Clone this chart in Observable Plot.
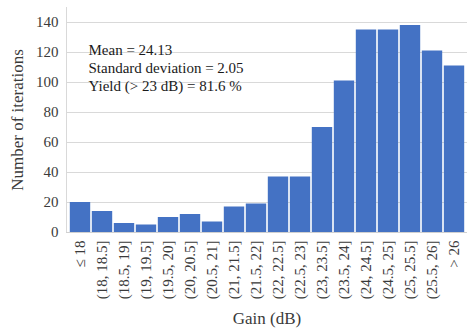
<!DOCTYPE html>
<html>
<head>
<meta charset="utf-8">
<script src="https://cdn.jsdelivr.net/npm/d3@7"></script>
<script src="https://cdn.jsdelivr.net/npm/@observablehq/plot@0.6"></script>
<style>
  html, body { margin: 0; padding: 0; background: #fff; }
  #chart svg { display: block; }
  #chart svg text { font-family: 'Liberation Serif', 'Times New Roman', serif; }
</style>
</head>
<body>
<div id="chart"></div>
<script>
const categories = ["≤ 18", "(18, 18.5]", "(18.5, 19]", "(19, 19.5]", "(19.5, 20]", "(20, 20.5]", "(20.5, 21]", "(21, 21.5]", "(21.5, 22]", "(22, 22.5]", "(22.5, 23]", "(23, 23.5]", "(23.5, 24]", "(24, 24.5]", "(24.5, 25]", "(25, 25.5]", "(25.5, 26]", "> 26"];
const counts = [20, 14, 6, 5, 10, 12, 7, 17, 19, 37, 37, 70, 101, 135, 135, 138, 121, 111];
const yTicks = [0, 20, 40, 60, 80, 100, 120, 140];
const statsLines = ["Mean = 24.13", "Standard deviation = 2.05", "Yield (> 23 dB) = 81.6 %"];
const xTitle = "Gain (dB)";
const yTitle = "Number of iterations";

const data = categories.map((c, i) => ({category: c, count: counts[i]}));
const font = "'Liberation Serif', 'Times New Roman', serif";
const ink = "#3a3a3a";

const chart = Plot.plot({
  width: 467,
  height: 329,
  marginLeft: 66,
  marginRight: 0,
  marginTop: 7,
  marginBottom: 97,
  style: {fontFamily: font, background: "#fff", color: ink},
  x: {type: "band", domain: categories, padding: 0},
  y: {domain: [0, 150]},
  marks: [
    Plot.gridY(yTicks.filter(d => d > 0), {stroke: "#d9d9d9", strokeOpacity: 1, strokeWidth: 1}),
    Plot.frame({anchor: "left", stroke: "#d9d9d9"}),
    Plot.text([statsLines.join("\n")], {
      frameAnchor: "top-left", dx: 22, dy: 60, lineAnchor: "middle", textAnchor: "start",
      lineHeight: 1.2, fontSize: 15, fill: "#1a1a1a", ariaLabel: "stats", fontFamily: font
    }),
    Plot.barY(data, {x: "category", y: "count", fill: "#4472C4", insetLeft: 0.8, insetRight: 0.8}),
    Plot.ruleY([0], {stroke: "#d0d0d0"}),
    Plot.axisY({ticks: yTicks, tickSize: 0, tickPadding: 8, fontSize: 15, label: null, fill: ink, fontFamily: font}),
    Plot.axisX({tickSize: 0, tickPadding: 8, tickRotate: -90, fontSize: 15, label: null, fill: ink, fontFamily: font}),
    Plot.text([xTitle], {frameAnchor: "bottom", dy: 86, lineAnchor: "middle", textAnchor: "middle", fontSize: 17, fill: ink, fontFamily: font}),
    Plot.text([yTitle], {frameAnchor: "left", dx: -49, rotate: -90, lineAnchor: "middle", textAnchor: "middle", fontSize: 17, fill: ink, fontFamily: font})
  ]
});
document.getElementById("chart").appendChild(chart);

// white background box behind the statistics annotation
const statsG = chart.querySelector('g[aria-label="stats"]');
if (statsG) {
  const bb = statsG.getBBox();
  const rect = document.createElementNS("http://www.w3.org/2000/svg", "rect");
  rect.setAttribute("x", bb.x - 8);
  rect.setAttribute("y", bb.y - 8);
  rect.setAttribute("width", bb.width + 40);
  rect.setAttribute("height", bb.height + 16);
  rect.setAttribute("fill", "#fff");
  statsG.parentNode.insertBefore(rect, statsG);
}
</script>
</body>
</html>
